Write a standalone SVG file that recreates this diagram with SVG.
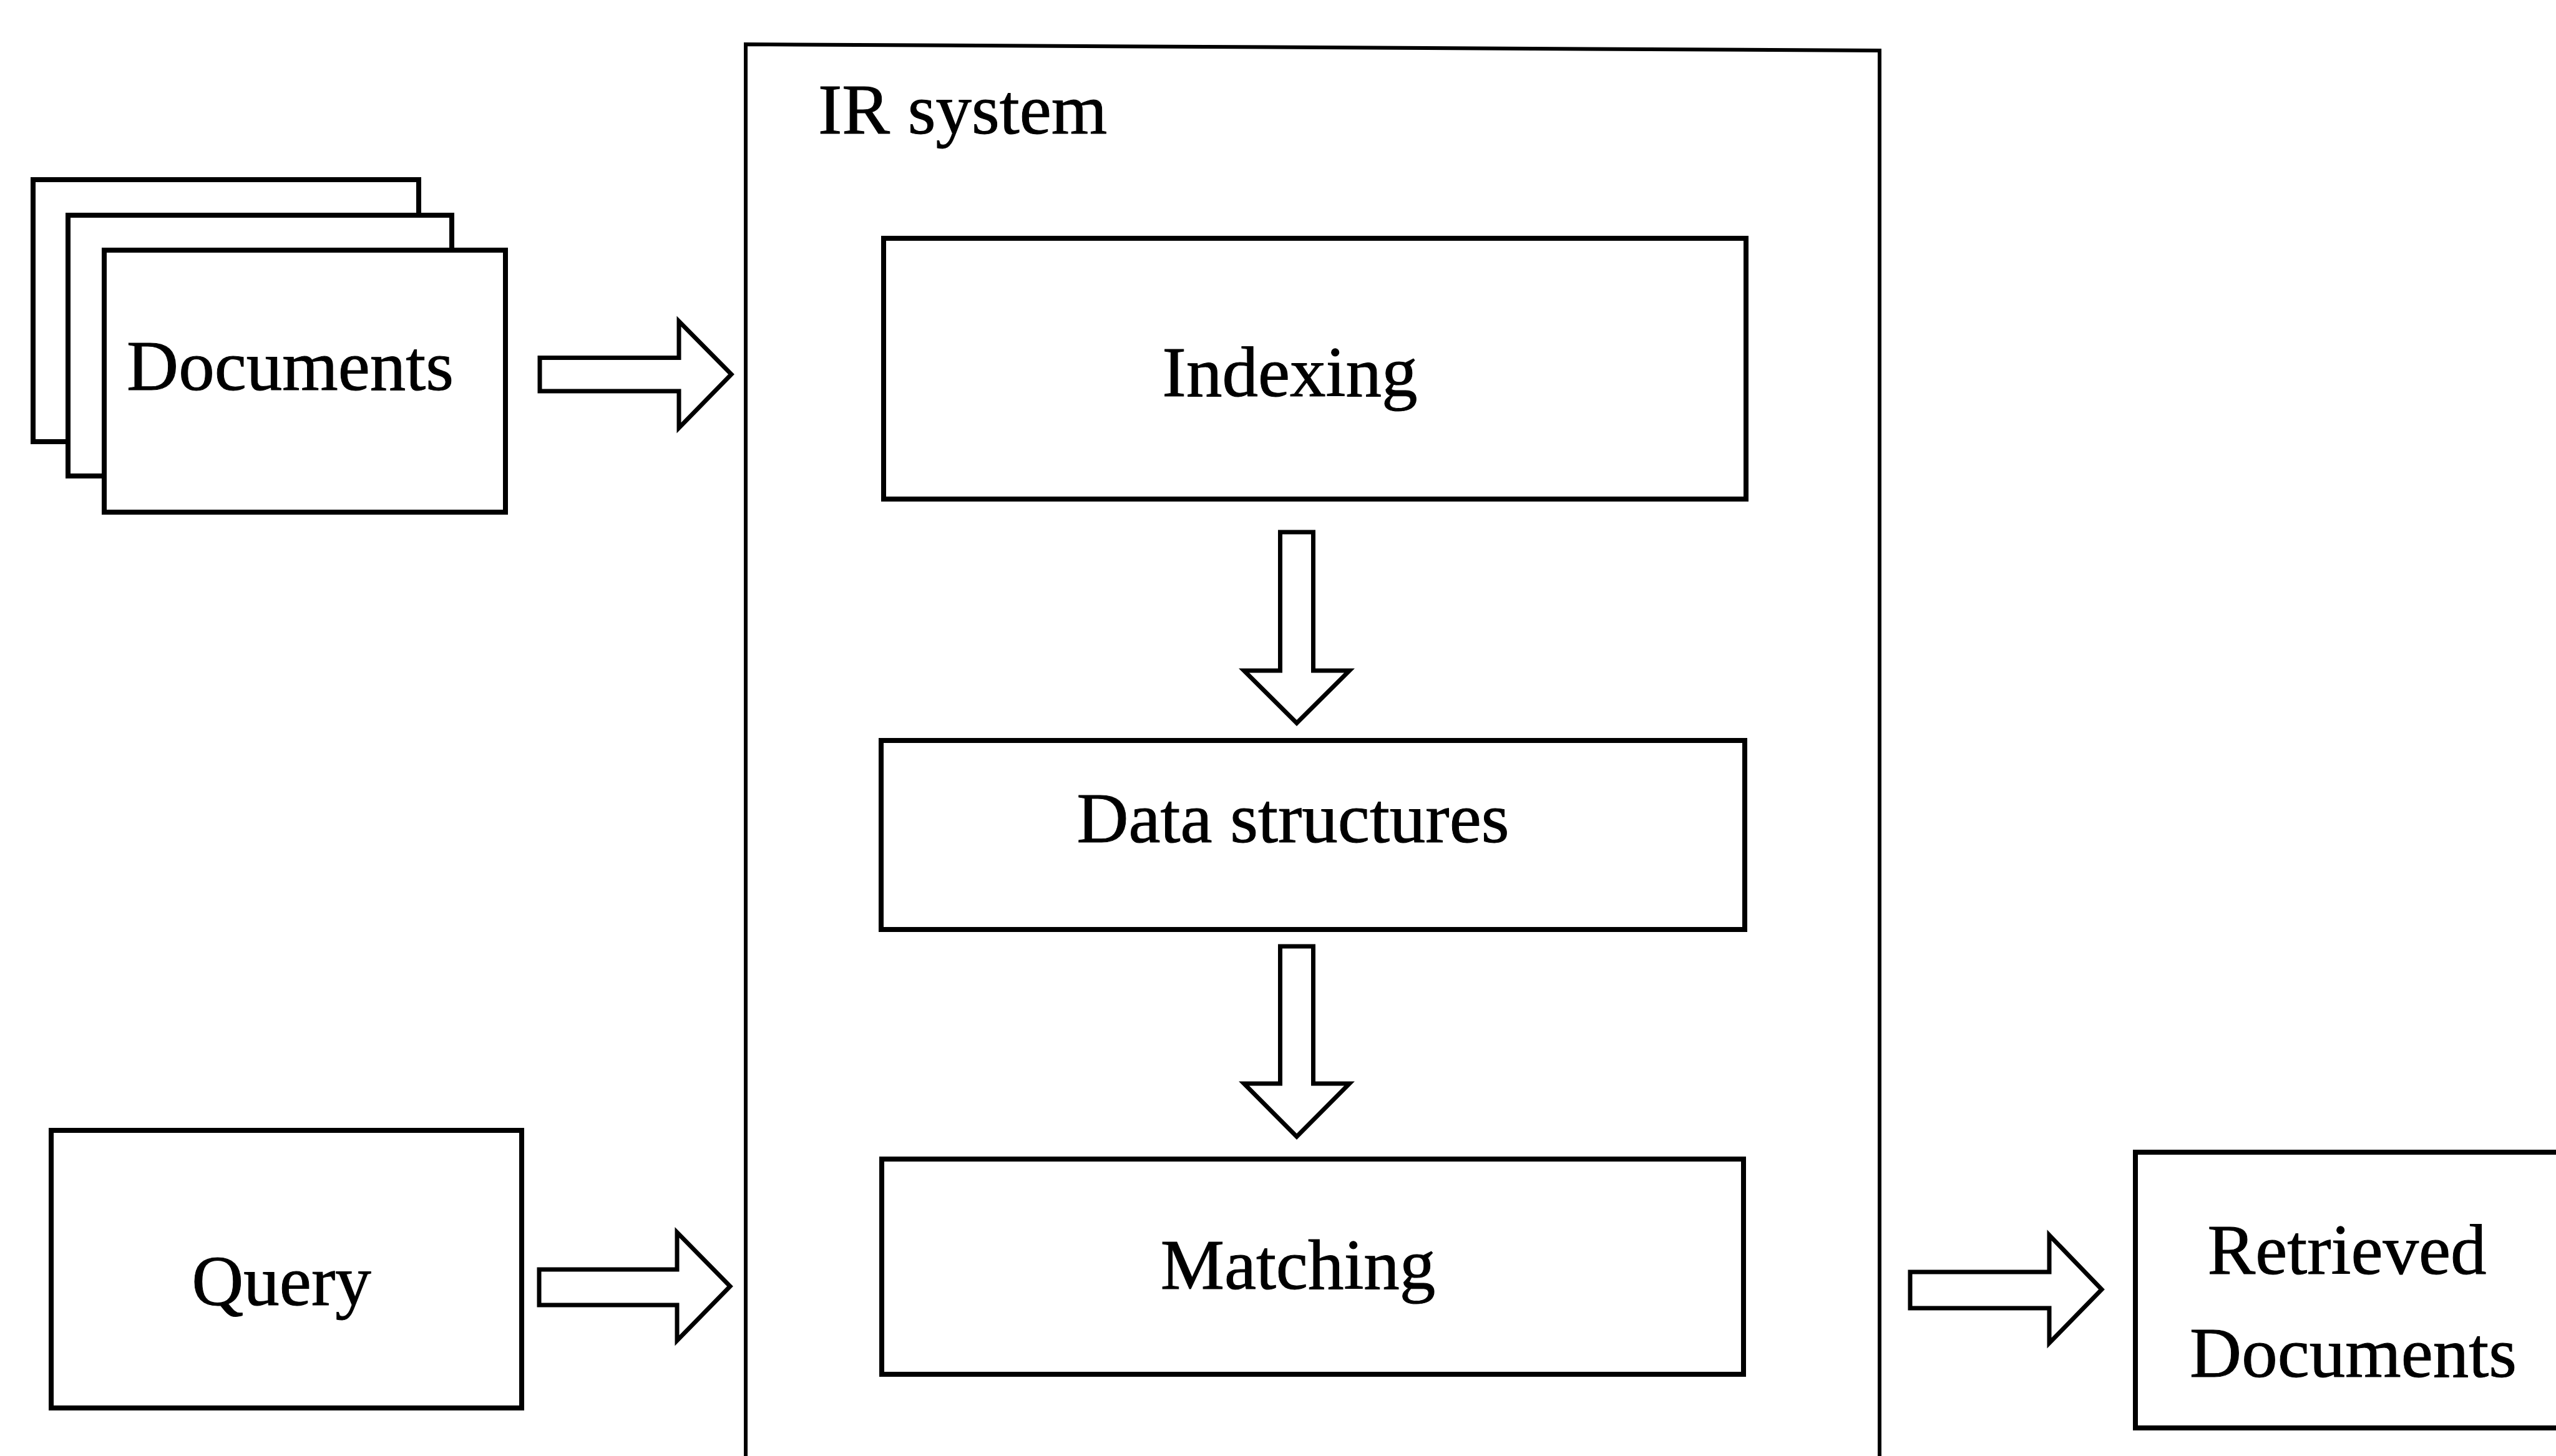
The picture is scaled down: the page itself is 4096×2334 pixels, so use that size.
<svg xmlns="http://www.w3.org/2000/svg" width="4096" height="2334" viewBox="0 0 4096 2334">
  <style>
    .box { fill: #ffffff; stroke: #000000; stroke-width: 8; stroke-linejoin: miter; }
    .frame { fill: none; stroke: #000000; stroke-width: 6; }
    .arrow { fill: #ffffff; stroke: #000000; stroke-width: 7; stroke-linejoin: miter; }
    .label { font-family: "Liberation Serif", "Times New Roman", serif; font-size: 115px; fill: #000000; stroke: #000000; stroke-width: 1; }
    .mid { text-anchor: middle; }
  </style>
  <rect x="0" y="0" width="4096" height="2334" fill="#ffffff"/>

  <!-- IR system frame (open at the bottom) -->
  <g id="ir-system">
    <path class="frame" d="M1195 2340 V71 L3012 81 V2340"/>
    <text class="label" x="1311" y="214">IR system</text>
  </g>

  <!-- Stack of document sheets -->
  <g id="documents">
    <rect class="box" x="53" y="288" width="618" height="420"/>
    <rect class="box" x="109" y="345" width="615" height="418"/>
    <rect class="box" x="167" y="401" width="643" height="420"/>
    <text class="label mid" x="465" y="625">Documents</text>
  </g>

  <g id="query">
    <rect class="box" x="82" y="1812" width="754" height="445"/>
    <text class="label mid" x="451" y="2092">Query</text>
  </g>

  <g id="indexing">
    <rect class="box" x="1416" y="382" width="1382" height="418"/>
    <text class="label mid" x="2067" y="635">Indexing</text>
  </g>

  <g id="data-structures">
    <rect class="box" x="1412" y="1187" width="1384" height="303"/>
    <text class="label mid" x="2072" y="1350">Data structures</text>
  </g>

  <g id="matching">
    <rect class="box" x="1413" y="1858" width="1381" height="345"/>
    <text class="label mid" x="2080" y="2066">Matching</text>
  </g>

  <!-- Result box runs off the right edge -->
  <g id="retrieved-documents">
    <path class="box" d="M4110 1847 H3422 V2289 H4110"/>
    <text class="label mid" x="3761" y="2042">Retrieved</text>
    <text class="label mid" x="3771" y="2207">Documents</text>
  </g>

  <!-- Block arrows -->
  <g id="connectors">
    <path class="arrow" d="M865 573.5 H1088 V515 L1172 600 L1088 686 V627 H865 Z"/>
    <path class="arrow" d="M864 2035 H1085 V1975.5 L1170 2062 L1085 2149 V2092 H864 Z"/>
    <path class="arrow" d="M3061 2039 H3284 V1980 L3368 2067 L3284 2153 V2097 H3061 Z"/>
    <path class="arrow" d="M2051.5 853 H2104.5 V1075 H2162.5 L2078 1159 L1993.5 1075 H2051.5 Z"/>
    <path class="arrow" d="M2051.5 1517 H2104.5 V1737 H2162.5 L2078 1822 L1993.5 1737 H2051.5 Z"/>
  </g>
</svg>
